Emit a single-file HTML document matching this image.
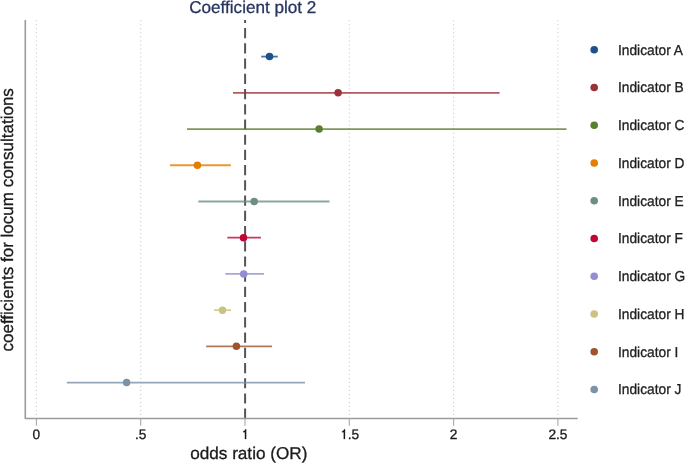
<!DOCTYPE html>
<html><head><meta charset="utf-8"><style>
html,body{margin:0;padding:0;background:#fff;width:685px;height:464px;overflow:hidden}
svg{display:block;will-change:transform}
text{font-family:"Liberation Sans",sans-serif;text-rendering:geometricPrecision;stroke-width:0.3px;paint-order:stroke}
</style></head><body>
<svg width="685" height="464" viewBox="0 0 685 464">
<rect width="685" height="464" fill="#fff"/>
<line x1="36.40" y1="20" x2="36.40" y2="418" stroke="#c6c6c6" stroke-width="1.1" stroke-dasharray="1 3.018" stroke-dashoffset="-0.3"/>
<line x1="140.70" y1="20" x2="140.70" y2="418" stroke="#c6c6c6" stroke-width="1.1" stroke-dasharray="1 3.018" stroke-dashoffset="-0.3"/>
<line x1="349.30" y1="20" x2="349.30" y2="418" stroke="#c6c6c6" stroke-width="1.1" stroke-dasharray="1 3.018" stroke-dashoffset="-0.3"/>
<line x1="453.60" y1="20" x2="453.60" y2="418" stroke="#c6c6c6" stroke-width="1.1" stroke-dasharray="1 3.018" stroke-dashoffset="-0.3"/>
<line x1="557.90" y1="20" x2="557.90" y2="418" stroke="#c6c6c6" stroke-width="1.1" stroke-dasharray="1 3.018" stroke-dashoffset="-0.3"/>
<line x1="245.1" y1="20" x2="245.1" y2="418" stroke="#555" stroke-width="2" stroke-dasharray="10.2 5.02" stroke-dashoffset="7.12"/>
<polyline points="25.3,20 25.3,418.55 577.7,418.55" fill="none" stroke="#9a9a9a" stroke-width="1.6" stroke-linejoin="round"/>
<line x1="36.40" y1="418.6" x2="36.40" y2="425.8" stroke="#a8a8a8" stroke-width="1.1"/>
<line x1="140.70" y1="418.6" x2="140.70" y2="425.8" stroke="#a8a8a8" stroke-width="1.1"/>
<line x1="245.00" y1="418.6" x2="245.00" y2="425.8" stroke="#a8a8a8" stroke-width="1.1"/>
<line x1="349.30" y1="418.6" x2="349.30" y2="425.8" stroke="#a8a8a8" stroke-width="1.1"/>
<line x1="453.60" y1="418.6" x2="453.60" y2="425.8" stroke="#a8a8a8" stroke-width="1.1"/>
<line x1="557.90" y1="418.6" x2="557.90" y2="425.8" stroke="#a8a8a8" stroke-width="1.1"/>
<text x="36.40" y="439" font-size="13.7" text-anchor="middle" fill="#1a1a1a" stroke="#1a1a1a">0</text>
<text x="140.70" y="439" font-size="13.7" text-anchor="middle" fill="#1a1a1a" stroke="#1a1a1a">.5</text>
<path transform="translate(240.82,439) scale(13.7,-13.7)" d="M0.389,0 L0.301,0 L0.301,0.50 L0.18,0.50 L0.18,0.560 C0.245,0.572 0.292,0.60 0.338,0.709 L0.389,0.709 Z" fill="#1a1a1a" stroke="#1a1a1a" stroke-width="0.0219"/>
<path transform="translate(339.67,439) scale(13.7,-13.7)" d="M0.389,0 L0.301,0 L0.301,0.50 L0.18,0.50 L0.18,0.560 C0.245,0.572 0.292,0.60 0.338,0.709 L0.389,0.709 Z" fill="#1a1a1a" stroke="#1a1a1a" stroke-width="0.0219"/>
<text x="347.79" y="439" font-size="13.7" fill="#1a1a1a" stroke="#1a1a1a">.5</text>
<text x="453.60" y="439" font-size="13.7" text-anchor="middle" fill="#1a1a1a" stroke="#1a1a1a">2</text>
<text x="557.90" y="439" font-size="13.7" text-anchor="middle" fill="#1a1a1a" stroke="#1a1a1a">2.5</text>
<line x1="261.2" y1="56.60" x2="277.8" y2="56.60" stroke="#1d5289" stroke-width="1.8" stroke-opacity="0.8"/>
<circle cx="269.5" cy="56.60" r="3.75" fill="#1d5289"/>
<line x1="233.0" y1="92.82" x2="499.6" y2="92.82" stroke="#9b3239" stroke-width="1.8" stroke-opacity="0.8"/>
<circle cx="338.1" cy="92.82" r="3.75" fill="#9b3239"/>
<line x1="187.0" y1="129.04" x2="566.5" y2="129.04" stroke="#5a7f2e" stroke-width="1.8" stroke-opacity="0.8"/>
<circle cx="319.1" cy="129.04" r="3.75" fill="#5a7f2e"/>
<line x1="170.0" y1="165.26" x2="230.8" y2="165.26" stroke="#e37e00" stroke-width="1.8" stroke-opacity="0.8"/>
<circle cx="197.4" cy="165.26" r="3.75" fill="#e37e00"/>
<line x1="198.3" y1="201.48" x2="329.5" y2="201.48" stroke="#6e8e84" stroke-width="1.8" stroke-opacity="0.8"/>
<circle cx="254.2" cy="201.48" r="3.75" fill="#6e8e84"/>
<line x1="227.3" y1="237.70" x2="260.9" y2="237.70" stroke="#c10534" stroke-width="1.8" stroke-opacity="0.8"/>
<circle cx="243.5" cy="237.70" r="3.75" fill="#c10534"/>
<line x1="225.3" y1="273.92" x2="264.0" y2="273.92" stroke="#938dd2" stroke-width="1.8" stroke-opacity="0.8"/>
<circle cx="243.7" cy="273.92" r="3.75" fill="#938dd2"/>
<line x1="214.0" y1="310.14" x2="231.0" y2="310.14" stroke="#cac27e" stroke-width="1.8" stroke-opacity="0.8"/>
<circle cx="222.5" cy="310.14" r="3.75" fill="#cac27e"/>
<line x1="206.2" y1="346.36" x2="272.1" y2="346.36" stroke="#a0522d" stroke-width="1.8" stroke-opacity="0.8"/>
<circle cx="236.4" cy="346.36" r="3.75" fill="#a0522d"/>
<line x1="66.8" y1="382.58" x2="305.1" y2="382.58" stroke="#7b92a8" stroke-width="1.8" stroke-opacity="0.8"/>
<circle cx="126.6" cy="382.58" r="3.75" fill="#7b92a8"/>
<circle cx="594.2" cy="49.80" r="3.8" fill="#1d5289"/>
<text transform="translate(618,54.70) scale(1,1.05)" font-size="13.75" fill="#1e1e1e" stroke="#1e1e1e">Indicator A</text>
<circle cx="594.2" cy="87.54" r="3.8" fill="#9b3239"/>
<text transform="translate(618,92.44) scale(1,1.05)" font-size="13.75" fill="#1e1e1e" stroke="#1e1e1e">Indicator B</text>
<circle cx="594.2" cy="125.28" r="3.8" fill="#5a7f2e"/>
<text transform="translate(618,130.18) scale(1,1.05)" font-size="13.75" fill="#1e1e1e" stroke="#1e1e1e">Indicator C</text>
<circle cx="594.2" cy="163.02" r="3.8" fill="#e37e00"/>
<text transform="translate(618,167.92) scale(1,1.05)" font-size="13.75" fill="#1e1e1e" stroke="#1e1e1e">Indicator D</text>
<circle cx="594.2" cy="200.76" r="3.8" fill="#6e8e84"/>
<text transform="translate(618,205.66) scale(1,1.05)" font-size="13.75" fill="#1e1e1e" stroke="#1e1e1e">Indicator E</text>
<circle cx="594.2" cy="238.50" r="3.8" fill="#c10534"/>
<text transform="translate(618,243.40) scale(1,1.05)" font-size="13.75" fill="#1e1e1e" stroke="#1e1e1e">Indicator F</text>
<circle cx="594.2" cy="276.24" r="3.8" fill="#938dd2"/>
<text transform="translate(618,281.14) scale(1,1.05)" font-size="13.75" fill="#1e1e1e" stroke="#1e1e1e">Indicator G</text>
<circle cx="594.2" cy="313.98" r="3.8" fill="#cac27e"/>
<text transform="translate(618,318.88) scale(1,1.05)" font-size="13.75" fill="#1e1e1e" stroke="#1e1e1e">Indicator H</text>
<circle cx="594.2" cy="351.72" r="3.8" fill="#a0522d"/>
<text transform="translate(618,356.62) scale(1,1.05)" font-size="13.75" fill="#1e1e1e" stroke="#1e1e1e">Indicator I</text>
<circle cx="594.2" cy="389.46" r="3.8" fill="#7b92a8"/>
<text transform="translate(618,394.36) scale(1,1.05)" font-size="13.75" fill="#1e1e1e" stroke="#1e1e1e">Indicator J</text>
<text x="252.8" y="13.2" font-size="17.13" text-anchor="middle" fill="#26345f" stroke="#26345f">Coefficient plot 2</text>
<text x="248.8" y="458.5" font-size="17.15" text-anchor="middle" fill="#1a1a1a" stroke="#1a1a1a">odds ratio (OR)</text>
<text transform="translate(13.4,219.8) rotate(-90)" font-size="17" text-anchor="middle" fill="#1a1a1a" stroke="#1a1a1a">coefficients for locum consultations</text>
</svg>
</body></html>
